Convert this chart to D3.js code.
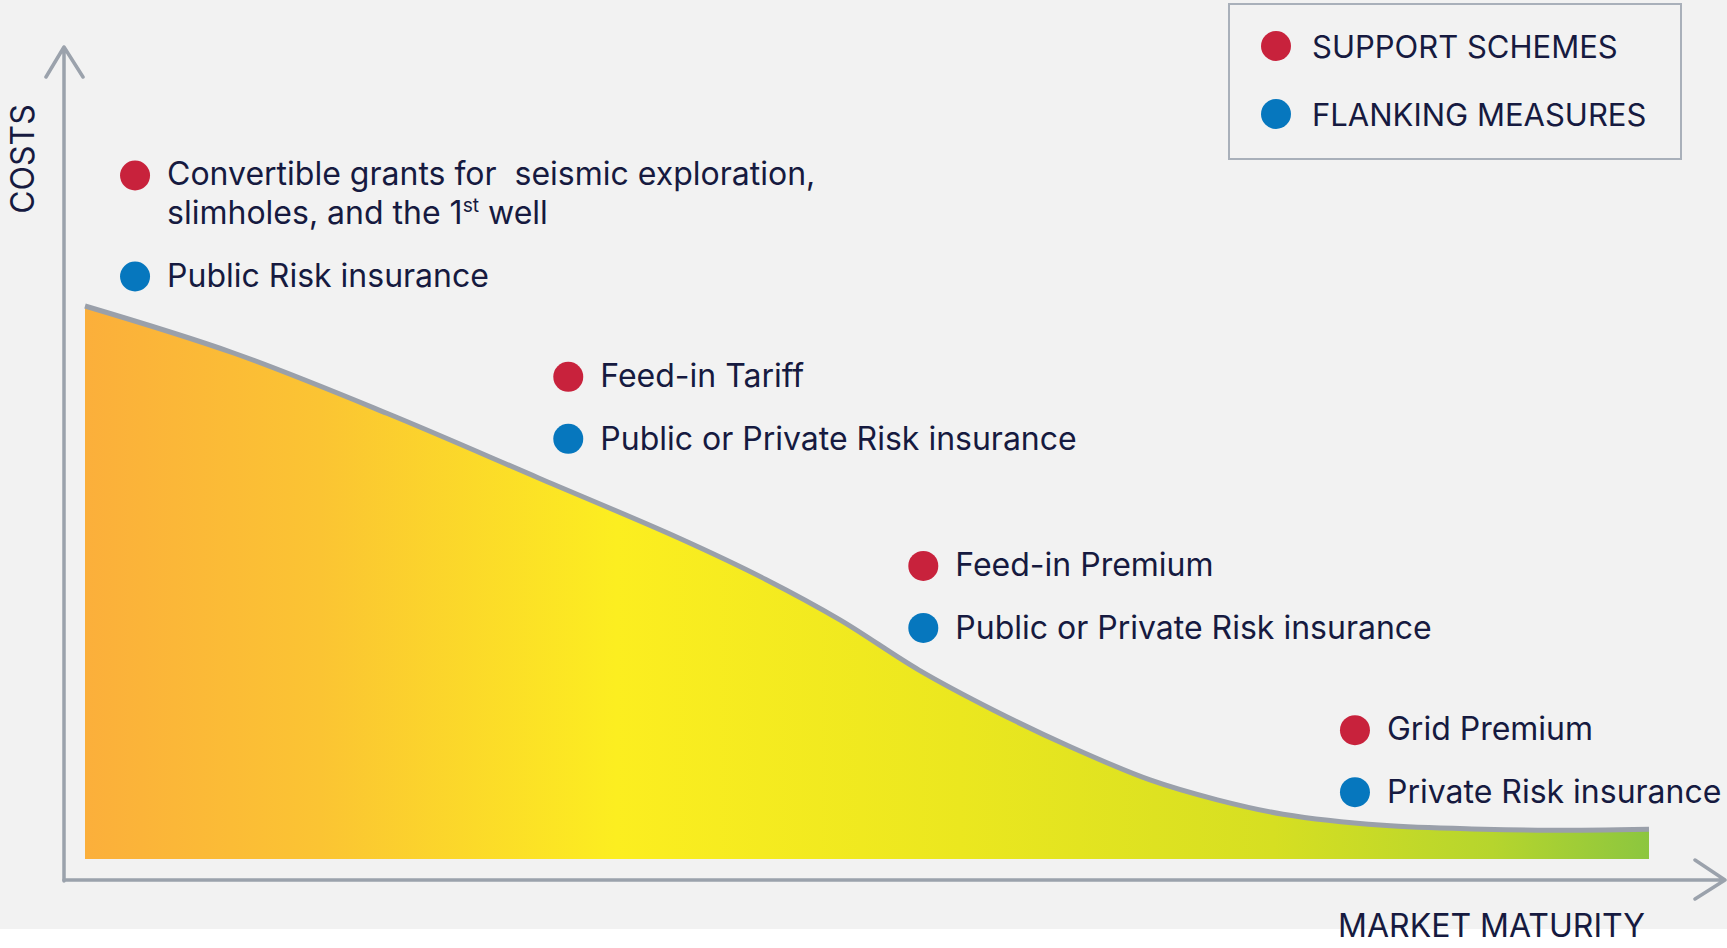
<!DOCTYPE html>
<html>
<head>
<meta charset="utf-8">
<script src="https://cdn.jsdelivr.net/npm/d3@7"></script>
<style>
  html, body { margin: 0; padding: 0; background: #ffffff; }
  svg { display: block; }
  .label { font-family: Inter, "Noto Sans", sans-serif; fill: #161a40; }
</style>
</head>
<body>
<div id="chart"></div>
<script>
  const WIDTH = 1727;
  const HEIGHT = 948;
  const AXIS_COLOR = "#9ba2ac";
  const RED = "#c8223c";
  const BLUE = "#0677be";
  const FONT_SIZE = 32;

  // cost curve (market maturity 0-100, cost 0-100)
  const maturity = [0, 9.5, 19.3, 29.0, 38.0, 43.5, 48.3, 53.3, 58.1, 63.0, 68.1, 72.4, 76.6, 83.0, 89.4, 93.7, 100];
  const costs = [100, 91.5, 80.6, 68.9, 58.0, 50.6, 43.2, 34.2, 26.9, 20.3, 14.3, 10.7, 8.1, 6.1, 5.4, 5.2, 5.4];

  // measures per market stage
  const stageX = [3.2, 30.9, 53.6, 81.2];
  const stageY = [123.6, 87.2, 53, 23.3];
  const supportSchemes = [
    ["Convertible grants for  seismic exploration,", "slimholes, and the 1^st well"],
    ["Feed-in Tariff"],
    ["Feed-in Premium"],
    ["Grid Premium"]
  ];
  const flankingMeasures = [
    "Public Risk insurance",
    "Public or Private Risk insurance",
    "Public or Private Risk insurance",
    "Private Risk insurance"
  ];

  const legendLabels = ["SUPPORT SCHEMES", "FLANKING MEASURES"];
  const legendColors = [RED, BLUE];

  const gradientStops = [
    [0, "#fbaf3b"], [0.15, "#fbc433"], [0.34, "#fcee20"],
    [0.56, "#ebe71f"], [0.76, "#d6df22"], [0.9, "#b6d52d"], [1, "#8cc63f"]
  ];

  const svg = d3.select("#chart").append("svg")
    .attr("width", WIDTH)
    .attr("height", HEIGHT);

  svg.append("rect")
    .attr("width", WIDTH)
    .attr("height", 929)
    .attr("fill", "#f2f2f2");

  const x = d3.scaleLinear().domain([0, 100]).range([85, 1649]);
  const y = d3.scaleLinear().domain([0, 100]).range([859, 306]);

  const points = maturity.map((m, i) => ({ m: m, c: costs[i] }));

  const grad = svg.append("defs").append("linearGradient")
    .attr("id", "costGrad")
    .attr("gradientUnits", "userSpaceOnUse")
    .attr("x1", x(0)).attr("x2", x(100))
    .attr("y1", 0).attr("y2", 0);
  grad.selectAll("stop")
    .data(gradientStops)
    .enter().append("stop")
    .attr("offset", (d) => d[0])
    .attr("stop-color", (d) => d[1]);

  const curve = d3.curveCatmullRom.alpha(0.5);

  const area = d3.area()
    .x((d) => x(d.m))
    .y0(y(0))
    .y1((d) => y(d.c))
    .curve(curve);

  const line = d3.line()
    .x((d) => x(d.m))
    .y((d) => y(d.c))
    .curve(curve);

  svg.append("path")
    .datum(points)
    .attr("d", area)
    .attr("fill", "url(#costGrad)");

  svg.append("path")
    .datum(points)
    .attr("d", line)
    .attr("fill", "none")
    .attr("stroke", "#9aa0aa")
    .attr("stroke-width", 5);

  // axes with open arrow heads
  const ax = svg.append("g")
    .attr("fill", "none")
    .attr("stroke", AXIS_COLOR)
    .attr("stroke-width", 3.5)
    .attr("stroke-linecap", "round")
    .attr("stroke-linejoin", "round");
  ax.append("path").attr("d", "M64,881 L64,47 M46,77 L64,47 L83,77");
  ax.append("path").attr("d", "M64,880 L1725,880 M1695,860 L1725,880 L1695,899");

  svg.append("text")
    .attr("class", "label")
    .attr("transform", "translate(34,159) rotate(-90)")
    .attr("text-anchor", "middle")
    .attr("font-size", 32)
    .text("COSTS");

  svg.append("text")
    .attr("class", "label")
    .attr("x", 1645)
    .attr("y", 937)
    .attr("text-anchor", "end")
    .attr("font-size", FONT_SIZE)
    .text("MARKET MATURITY");

  // legend
  const legend = svg.append("g");
  legend.append("rect")
    .attr("x", 1229).attr("y", 4)
    .attr("width", 452).attr("height", 155)
    .attr("fill", "none")
    .attr("stroke", "#a9b0ba")
    .attr("stroke-width", 2);
  const li = legend.selectAll(".item")
    .data(legendLabels)
    .enter().append("g")
    .attr("transform", (d, i) => `translate(1276,${46 + i * 68})`);
  li.append("circle").attr("r", 15).attr("fill", (d, i) => legendColors[i]);
  li.append("text")
    .attr("class", "label")
    .attr("x", 36).attr("y", 12)
    .attr("font-size", 31)
    .text((d) => d);

  // stage annotations
  const addLine = (sel, str) => {
    const parts = str.split("^");
    if (parts.length === 1) { sel.text(str); return; }
    const m = parts[1].match(/^(\S+)(.*)$/);
    sel.append("tspan").text(parts[0]);
    sel.append("tspan").attr("font-size", FONT_SIZE * 0.6).attr("dy", -12).text(m[1]);
    sel.append("tspan").attr("dy", 12).text(m[2]);
  };

  stageX.forEach((sx, i) => {
    const cx = x(sx);
    const cy = y(stageY[i]);
    const g = svg.append("g");
    const lines = supportSchemes[i];
    g.append("circle").attr("cx", cx).attr("cy", cy).attr("r", 15).attr("fill", RED);
    lines.forEach((t, j) => {
      const tx = g.append("text")
        .attr("class", "label")
        .attr("x", cx + 32)
        .attr("y", cy + 10 + j * 39)
        .attr("font-size", FONT_SIZE)
        .attr("xml:space", "preserve")
        .style("white-space", "pre");
      addLine(tx, t);
    });
    const by = cy + 62 + (lines.length - 1) * 39;
    g.append("circle").attr("cx", cx).attr("cy", by).attr("r", 15).attr("fill", BLUE);
    g.append("text")
      .attr("class", "label")
      .attr("x", cx + 32)
      .attr("y", by + 11)
      .attr("font-size", FONT_SIZE)
      .text(flankingMeasures[i]);
  });
</script>
</body>
</html>
